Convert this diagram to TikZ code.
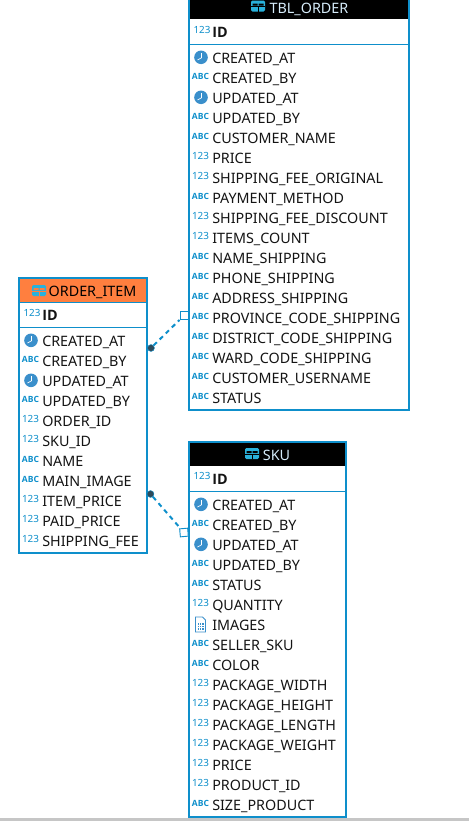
\documentclass[tikz,border=0pt]{standalone}
\usepackage{fontspec}
\setmainfont{Noto Sans}
\newfontfamily\boldcols{Open Sans}
\definecolor{dbblue}{HTML}{0E8FCB}
\definecolor{iconblue}{HTML}{3A8FCB}
\definecolor{headorange}{HTML}{FF7F3F}
\definecolor{dotdark}{HTML}{2F4A5A}
\definecolor{rowtext}{HTML}{141414}
\definecolor{titlelight}{HTML}{D6ECFA}
\tikzset{
    tablebox/.style={draw=dbblue,line width=1.5pt,fill=white,inner sep=0pt,outer sep=0pt,anchor=north west},
    rowname/.style={anchor=base west,inner sep=0pt,text=rowtext,font=\fontsize{10.75}{12}\selectfont},
    idname/.style={rowname,font=\fontsize{10.75}{12}\selectfont\boldcols\bfseries},
    titlename/.style={inner sep=0pt,anchor=base,font=\fontsize{10.75}{12}\selectfont},
    typetag/.style={inner sep=0pt,text=dbblue},
    iconnum/.pic={\node[typetag,font=\fontsize{7.4}{8}\selectfont] (-tag) at (0,-2) {123};},
    iconabc/.pic={\node[typetag,font=\fontsize{6.4}{8}\selectfont\boldcols\bfseries] (-tag) at (0,-2) {ABC};},
    iconclock/.pic={
        \fill[iconblue] (0.5,-0.7) circle (6.8);
        \draw[white,line width=0.5pt] (1,-5)--(1,-0.2)--(-3,2);
    },
    icondoc/.pic={
        \draw[iconblue,line width=0.7pt] (-5,-8)--(2,-8)--(5,-5)--(5,7)--(-5,7)--cycle;
        \fill[iconblue] (-3,-2) rectangle (3,5);
        \foreach \gx in {-1,1} \draw[white,line width=0.3pt] (\gx,-2)--(\gx,5);
        \foreach \gy in {0,2.5} \draw[white,line width=0.3pt] (-3,\gy)--(3,\gy);
    },
    icontable/.pic={
        \fill[iconblue!70!cyan,rounded corners=1pt] (-7,-5.5) rectangle (7,5.5);
        \fill[#1] (-5.5,-2.5) rectangle (-0.5,-0.5) (0.5,-2.5) rectangle (5.5,-0.5);
        \fill[#1] (-7,0.4) rectangle (7,0.9);
        \draw[#1,line width=0.4pt] (0,0.5)--(0,5.5);
    },
    icontable/.default=black,
    connline/.style={dbblue,line width=1.5pt,dash pattern=on 3.4pt off 3pt},
    fkdot/.style={circle,fill=dotdark,draw=dbblue,line width=0.3pt,inner sep=0pt,minimum size=5.2pt},
    pksquare/.style={rectangle,draw=dbblue,fill=white,line width=0.7pt,inner sep=0pt,minimum size=6pt},
}
\begin{document}
\begin{tikzpicture}[x=0.75pt,y=-0.75pt]
    \clip (0,0) rectangle (469,821);
    \fill[gray!45] (0,818) rectangle (469,821);

    \node[tablebox,minimum width=165pt,minimum height=309pt] (orderbox) at (189,-2) {};
    \fill[black] (190,-2) rectangle (408,19);
    \draw[dbblue,line width=0.75pt] (189,44.5)--(409,44.5);
    \node[titlename,text=titlelight] (ordertitle) at (309,13) {TBL\_ORDER};
    \pic at (258,6) {icontable=black};
    \pic at (202,32) {iconnum};
    \node[idname] (orderid) at (212,37) {ID};
    \foreach \kind/\colname [count=\i from 0] in {iconclock/CREATED\_AT,iconabc/CREATED\_BY,iconclock/UPDATED\_AT,iconabc/UPDATED\_BY,iconabc/CUSTOMER\_NAME,iconnum/PRICE,iconnum/SHIPPING\_FEE\_ORIGINAL,iconabc/PAYMENT\_METHOD,iconnum/SHIPPING\_FEE\_DISCOUNT,iconnum/ITEMS\_COUNT,iconabc/NAME\_SHIPPING,iconabc/PHONE\_SHIPPING,iconabc/ADDRESS\_SHIPPING,iconabc/PROVINCE\_CODE\_SHIPPING,iconabc/DISTRICT\_CODE\_SHIPPING,iconabc/WARD\_CODE\_SHIPPING,iconabc/CUSTOMER\_USERNAME,iconabc/STATUS}{
        \pic at (200.5,{58+20*\i}) {\kind};
        \node[rowname] (order\i) at (212,{63+20*\i}) {\colname};
    }

    \node[tablebox,minimum width=96pt,minimum height=206pt] (itembox) at (19,278) {};
    \fill[headorange] (20,279) rectangle (146,302);
    \draw[dbblue,line width=0.75pt] (19,302.5)--(147,302.5);
    \draw[dbblue,line width=0.75pt] (19,327.5)--(147,327.5);
    \node[titlename,text=black] (itemtitle) at (92.5,296) {ORDER\_ITEM};
    \pic at (39,290.5) {icontable=headorange};
    \pic at (32,315) {iconnum};
    \node[idname] (itemid) at (42,320) {ID};
    \foreach \kind/\colname [count=\i from 0] in {iconclock/CREATED\_AT,iconabc/CREATED\_BY,iconclock/UPDATED\_AT,iconabc/UPDATED\_BY,iconnum/ORDER\_ID,iconnum/SKU\_ID,iconabc/NAME,iconabc/MAIN\_IMAGE,iconnum/ITEM\_PRICE,iconnum/PAID\_PRICE,iconnum/SHIPPING\_FEE}{
        \pic at (30.5,{341+20*\i}) {\kind};
        \node[rowname] (item\i) at (42,{346+20*\i}) {\colname};
    }

    \node[tablebox,minimum width=117.75pt,minimum height=281.25pt] (skubox) at (189,442) {};
    \fill[black] (190,443) rectangle (345,466);
    \draw[dbblue,line width=0.75pt] (189,491.5)--(346,491.5);
    \node[titlename,text=titlelight] (skutitle) at (276.5,460) {SKU};
    \pic at (252,453.5) {icontable=black};
    \pic at (202,478) {iconnum};
    \node[idname] (skuid) at (212,484) {ID};
    \foreach \kind/\colname [count=\i from 0] in {iconclock/CREATED\_AT,iconabc/CREATED\_BY,iconclock/UPDATED\_AT,iconabc/UPDATED\_BY,iconabc/STATUS,iconnum/QUANTITY,icondoc/IMAGES,iconabc/SELLER\_SKU,iconabc/COLOR,iconnum/PACKAGE\_WIDTH,iconnum/PACKAGE\_HEIGHT,iconnum/PACKAGE\_LENGTH,iconnum/PACKAGE\_WEIGHT,iconnum/PRICE,iconnum/PRODUCT\_ID,iconabc/SIZE\_PRODUCT}{
        \pic at (200.5,{505+20*\i}) {\kind};
        \node[rowname] (sku\i) at (212,{510+20*\i}) {\colname};
    }

    \node[fkdot] (itemdotA) at (151,348) {};
    \node[pksquare] (ordersq) at (184,315.5) {};
    \node[fkdot] (itemdotB) at (150.5,494) {};
    \node[pksquare,rotate=5] (skusq) at (184,532.5) {};
    \draw[connline] (itemdotA)--(ordersq);
    \draw[connline] (itemdotB)--(skusq);
\end{tikzpicture}
\end{document}
